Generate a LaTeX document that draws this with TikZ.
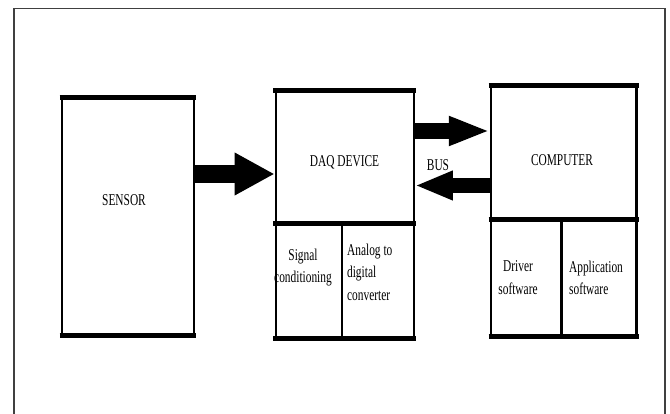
\documentclass[tikz,border=0pt]{standalone}
\usepackage{fontspec}
\setmainfont{Liberation Serif}
\usetikzlibrary{arrows.meta}

\begin{document}
\begin{tikzpicture}
  [x=1pt, y=-1pt,
   block/.style={rectangle, draw=black, line width=2.4pt, inner sep=0pt},
   rim/.style={line width=5pt, shorten <=-1.2pt, shorten >=-1.2pt},
   wall/.style={line width=2.4pt},
   txt/.style={font=\fontsize{16.5}{22.5}\selectfont, xscale=.69, inner sep=0pt}]

  \useasboundingbox (0,0) rectangle (670,414);
  \draw[black!75, line width=1.3pt] (14,414) -- (14,8.5) -- (665,8.5) -- (665,414);

  \node[block, minimum width=132pt, minimum height=236pt] (sensor) at (128,216.5) {};
  \node[block, minimum width=138pt, minimum height=246pt] (daq) at (344.75,214.5) {};
  \node[block, minimum width=145.5pt, minimum height=248.5pt] (comp) at (563.75,211.25) {};

  \foreach \b in {sensor, daq, comp} {
    \draw[rim] (\b.north west) -- (\b.north east);
    \draw[rim] (\b.south west) -- (\b.south east);
  }

  \coordinate (dsplit) at (342,224);
  \coordinate (csplit) at (561.5,219.5);
  \draw[rim] (daq.west |- dsplit) -- (daq.east |- dsplit);
  \draw[rim] (comp.west |- csplit) -- (comp.east |- csplit);
  \draw[wall] (dsplit) -- (dsplit |- daq.south);
  \draw[wall] (csplit) -- (csplit |- comp.south);

  \node[txt] (sensorlbl) at (124,200) {SENSOR};
  \node[txt] (daqlbl) at (344.5,162) {DAQ DEVICE};
  \node[txt] (complbl) at (562,160) {COMPUTER};
  \node[txt] (buslbl) at (438,165) {BUS};

  \node[txt, align=center, anchor=north] (sig) at (303,248.5) {Signal\\conditioning};
  \node[txt, align=left, anchor=north west] (adc) at (347,243.5) {Analog to\\digital\\converter};
  \node[txt, align=center, anchor=north] (drv) at (518,260.5) {Driver\\software};
  \node[txt, align=left, anchor=north west] (app) at (569,260.5) {Application\\software};

  \draw[line width=18pt, -{Triangle[length=40pt, width=40pt]}]
    (sensor.east |- 0,174) -- (daq.west |- 0,174);
  \draw[line width=16pt, -{Triangle[length=41pt, width=27pt]}]
    (daq.east |- 0,131) -- (comp.west |- 0,131);
  \draw[line width=15pt, -{Triangle[length=38pt, width=27pt]}]
    (comp.west |- 0,185.5) -- (daq.east |- 0,185.5);
\end{tikzpicture}
\end{document}
